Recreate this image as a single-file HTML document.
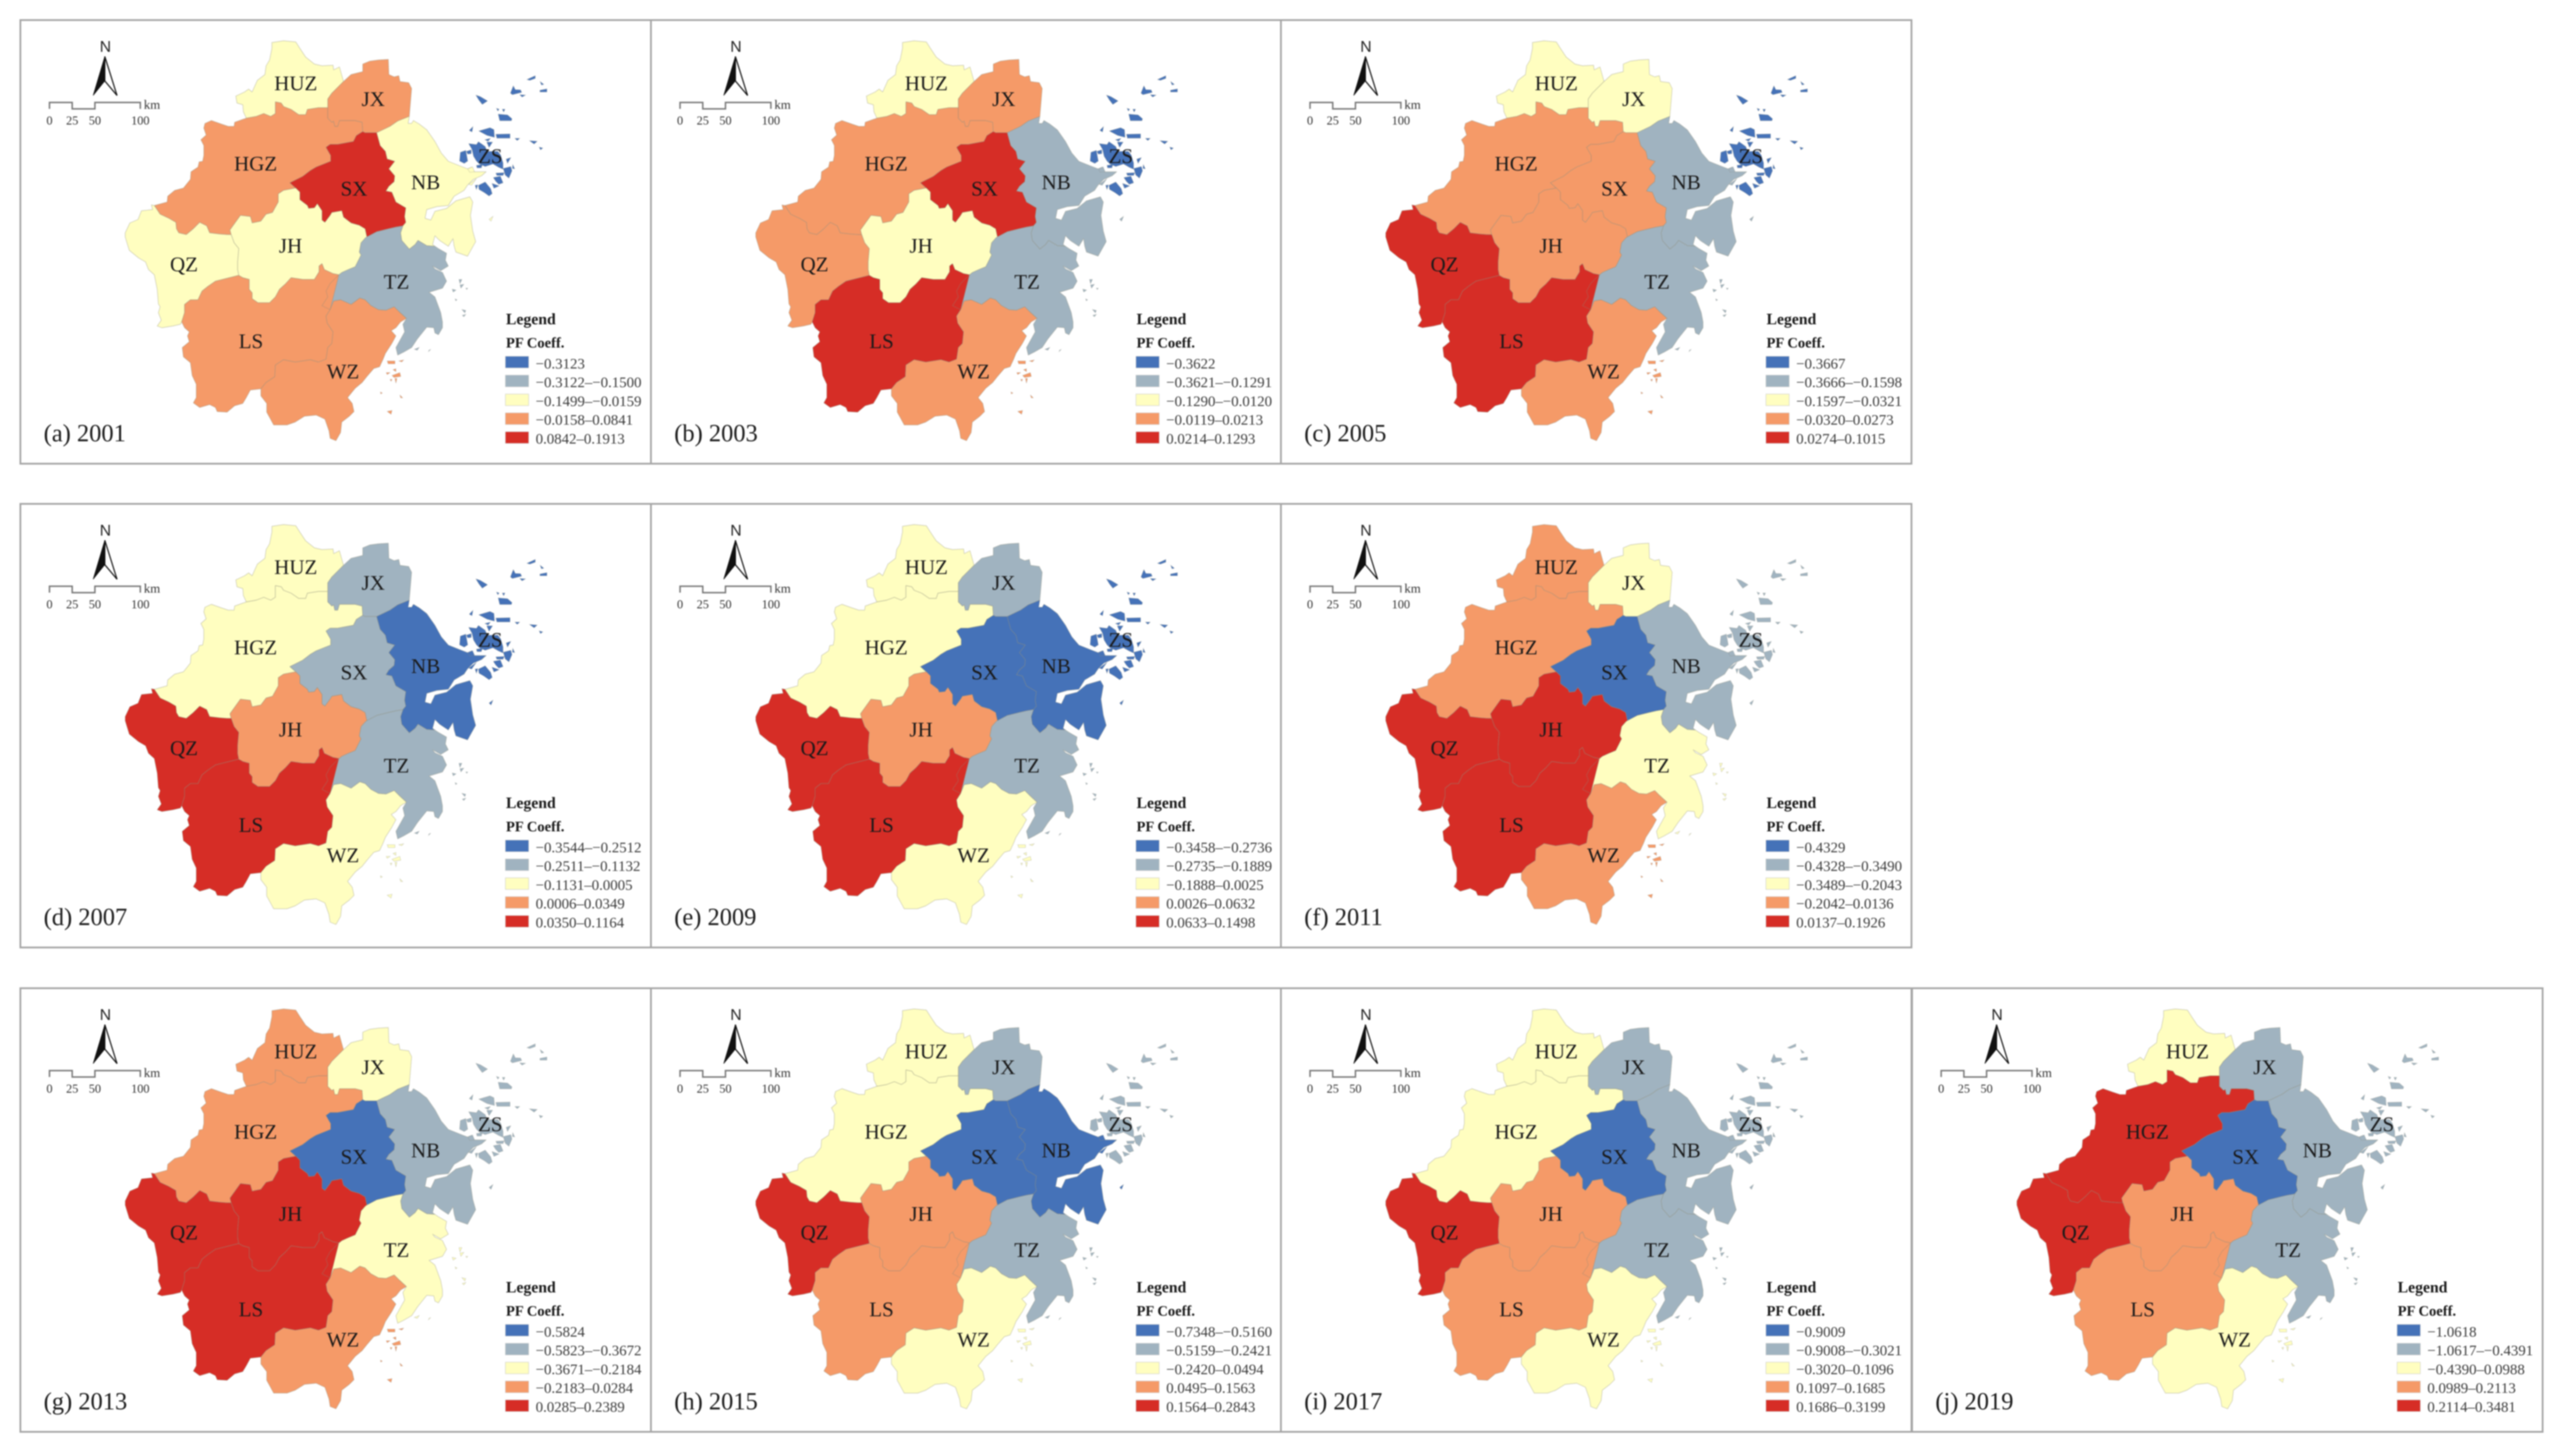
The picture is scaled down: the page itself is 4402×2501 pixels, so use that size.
<!DOCTYPE html>
<html lang="en">
<head>
<meta charset="utf-8">
<title>PF Coefficient maps 2001-2019</title>
<style>
html,body{margin:0;padding:0;background:#fff;width:4402px;height:2501px;overflow:hidden}
svg{display:block;filter:blur(1px)}
text{font-family:"Liberation Serif",serif}
</style>
</head>
<body>
<svg id="figure" xmlns="http://www.w3.org/2000/svg" width="4402" height="2501" viewBox="0 0 4402 2501"></svg>
<script>
// ---------- data ----------
const regionNames = ["HUZ","JX","HGZ","SX","NB","ZS","QZ","JH","TZ","LS","WZ"];
const years = [2001,2003,2005,2007,2009,2011,2013,2015,2017,2019];
const panelLetters = ["a","b","c","d","e","f","g","h","i","j"];
const classColors = ["#4572B8","#A0B3C0","#FFFEC0","#F59A68","#D62D26"];
// class index of each region, same order as regionNames
const classes2001 = [2,3,3,4,2,0,2,2,1,3,3];
const classes2003 = [2,3,3,4,1,0,3,2,1,4,3];
const classes2005 = [2,2,3,3,1,0,4,3,1,4,3];
const classes2007 = [2,1,2,1,0,0,4,3,1,4,2];
const classes2009 = [2,1,2,0,0,0,4,3,1,4,2];
const classes2011 = [3,2,3,0,1,1,4,4,2,4,3];
const classes2013 = [3,2,3,0,1,1,4,4,2,4,3];
const classes2015 = [2,1,2,0,0,1,4,3,1,3,2];
const classes2017 = [2,1,2,0,1,1,4,3,1,3,2];
const classes2019 = [2,1,4,0,1,1,4,3,1,3,2];
const legend2001 = ["\u22120.3123","\u22120.3122\u2013\u22120.1500","\u22120.1499\u2013\u22120.0159","\u22120.0158\u20130.0841","0.0842\u20130.1913"];
const legend2003 = ["\u22120.3622","\u22120.3621\u2013\u22120.1291","\u22120.1290\u2013\u22120.0120","\u22120.0119\u20130.0213","0.0214\u20130.1293"];
const legend2005 = ["\u22120.3667","\u22120.3666\u2013\u22120.1598","\u22120.1597\u2013\u22120.0321","\u22120.0320\u20130.0273","0.0274\u20130.1015"];
const legend2007 = ["\u22120.3544\u2013\u22120.2512","\u22120.2511\u2013\u22120.1132","\u22120.1131\u20130.0005","0.0006\u20130.0349","0.0350\u20130.1164"];
const legend2009 = ["\u22120.3458\u2013\u22120.2736","\u22120.2735\u2013\u22120.1889","\u22120.1888\u20130.0025","0.0026\u20130.0632","0.0633\u20130.1498"];
const legend2011 = ["\u22120.4329","\u22120.4328\u2013\u22120.3490","\u22120.3489\u2013\u22120.2043","\u22120.2042\u20130.0136","0.0137\u20130.1926"];
const legend2013 = ["\u22120.5824","\u22120.5823\u2013\u22120.3672","\u22120.3671\u2013\u22120.2184","\u22120.2183\u20130.0284","0.0285\u20130.2389"];
const legend2015 = ["\u22120.7348\u2013\u22120.5160","\u22120.5159\u2013\u22120.2421","\u22120.2420\u20130.0494","0.0495\u20130.1563","0.1564\u20130.2843"];
const legend2017 = ["\u22120.9009","\u22120.9008\u2013\u22120.3021","\u22120.3020\u20130.1096","0.1097\u20130.1685","0.1686\u20130.3199"];
const legend2019 = ["\u22121.0618","\u22121.0617\u2013\u22120.4391","\u22120.4390\u20130.0988","0.0989\u20130.2113","0.2114\u20130.3481"];
const panelClasses = [classes2001,classes2003,classes2005,classes2007,classes2009,classes2011,classes2013,classes2015,classes2017,classes2019];
const panelLegends = [legend2001,legend2003,legend2005,legend2007,legend2009,legend2011,legend2013,legend2015,legend2017,legend2019];
const scaleTicks = ["0","25","50","100"];

// ---------- geometry ----------
const huz_out=[[423,203],[418,192],[417,180],[407,177],[405,165],[420,158],[427,153],[433,158],[442,138],[455,128],[457,113],[463,103],[467,83],[467,73],[487,70],[508,72],[515,83],[525,98],[540,110],[553,113],[572,112],[573,120],[583,115],[590,140]];
const huz_jx=[[590,140],[570,160],[563,170],[563,185]];
const huz_hgz=[[563,185],[547,185],[528,188],[525,197],[513,197],[500,188],[487,183],[483,177],[473,175],[473,195],[465,200],[453,195],[440,200],[423,203]];
const hgz_out=[[423,203],[417,205],[403,210],[402,217],[392,217],[380,213],[363,207],[352,212],[350,220],[354,232],[345,240],[350,250],[350,267],[348,277],[342,278],[340,287],[328,295],[327,308],[315,323],[300,327],[288,337],[287,347],[265,353]];
const hgz_qz=[[265,353],[275,368],[290,375],[302,382],[303,393],[307,400],[320,403],[332,393],[343,382],[355,388],[360,400],[377,402],[390,403],[397,403]];
const hgz_jh=[[397,403],[395,395],[413,370],[430,372],[433,383],[448,380],[457,368],[468,365],[478,347],[478,333],[487,327],[508,323]];
const hgz_sx=[[508,323],[498,314],[520,303],[533,293],[543,287],[568,277],[568,267],[560,253],[567,248],[580,248],[607,243],[612,233],[623,226]];
const hgz_jx=[[623,226],[622,210],[610,207],[583,207],[580,217],[575,217],[573,208],[570,210],[563,203],[563,185]];
const jx_out=[[590,140],[603,128],[623,123],[623,110],[635,105],[650,103],[667,102],[668,128],[677,132],[685,130],[687,140],[702,142],[707,152],[703,200]];
const jx_nb=[[703,200],[683,208],[670,217],[647,228]];
const jx_sx=[[647,228],[627,228],[623,226]];
const sx_nb=[[647,228],[653,250],[662,260],[665,273],[678,277],[668,290],[678,302],[677,312],[668,320],[663,328],[673,330],[680,347],[697,357],[695,372],[697,382],[692,388]];
const sx_tz=[[692,388],[680,390],[667,393],[647,398],[630,407]];
const sx_jh=[[630,407],[627,393],[617,387],[603,383],[590,373],[587,362],[570,365],[567,370],[558,382],[553,378],[553,362],[545,350],[540,357],[530,358],[528,353],[515,343],[515,330],[508,323]];
const nb_out=[[703,200],[701,212],[707,212],[710,207],[720,213],[733,223],[747,243],[758,263],[770,277],[790,285],[803,290],[810,287],[815,295],[835,295],[827,302],[813,308],[803,318],[797,327],[780,337],[770,353],[750,355],[733,360],[730,375],[740,378],[747,363],[767,358],[783,345],[807,338],[812,347],[808,370],[812,397],[817,415],[803,440],[783,433],[780,423],[778,410],[770,423],[755,413],[747,405],[743,420],[747,423]];
const nb_tz=[[747,423],[733,422],[718,413],[713,420],[703,428],[690,413],[688,400],[692,388]];
const tz_out=[[747,423],[753,427],[767,435],[765,447],[770,457],[757,465],[743,457],[747,462],[760,468],[767,483],[760,495],[737,502],[747,510],[757,537],[760,553],[760,563],[753,575],[747,572],[745,563],[733,562],[717,582],[707,597],[693,605],[683,610],[680,597],[695,570],[692,557],[698,547]];
const tz_wz=[[698,547],[685,535],[677,527],[663,533],[650,532],[637,525],[627,515],[618,512],[603,523],[585,515],[573,517],[567,532]];
const tz_ls=[[567,532],[553,525],[563,510],[560,500],[567,487],[582,472]];
const tz_jh=[[582,472],[587,468],[598,463],[610,458],[620,438],[617,433],[620,417],[628,408],[630,407]];
const qz_jh=[[397,403],[402,417],[410,427],[408,450],[408,463],[410,473]];
const jh_ls=[[410,473],[417,477],[428,480],[428,497],[433,503],[433,513],[443,520],[463,520],[473,510],[480,497],[490,488],[500,477],[520,480],[540,480],[548,467],[548,457],[553,453],[557,463],[572,470],[582,472]];
const qz_out=[[265,353],[260,352],[262,360],[243,362],[237,377],[223,383],[215,400],[215,407],[222,430],[238,443],[250,450],[255,463],[265,472],[270,497],[272,522],[275,527],[272,537],[277,550],[270,560],[278,563],[297,560],[310,557],[312,553]];
const qz_ls=[[312,553],[317,537],[317,523],[327,515],[340,515],[347,500],[357,492],[370,483],[390,478],[410,473]];
const ls_out=[[312,553],[317,563],[325,570],[322,577],[325,587],[313,597],[315,613],[327,623],[330,645],[337,660],[337,683],[332,692],[343,700],[360,695],[370,700],[373,707],[390,708],[403,697],[417,693],[423,683],[430,670],[448,668]];
const ls_wz=[[448,668],[457,657],[472,647],[473,627],[487,618],[507,622],[533,618],[547,622],[560,617],[563,597],[570,590],[572,570],[562,555],[560,543],[567,532]];
const wz_out=[[698,547],[688,553],[680,563],[672,568],[680,577],[673,590],[662,607],[658,617],[652,630],[642,633],[630,647],[622,657],[610,667],[597,683],[605,693],[608,707],[600,715],[587,725],[585,743],[577,757],[567,753],[565,740],[558,720],[543,713],[523,715],[507,725],[493,730],[480,730],[470,730],[463,717],[458,708],[458,693],[448,680],[448,668]];
const rev = a => a.slice().reverse();
const regionOutlines = {
  HUZ:[huz_out,huz_jx,huz_hgz],
  HGZ:[hgz_out,hgz_qz,hgz_jh,hgz_sx,hgz_jx,huz_hgz],
  JX:[rev(huz_jx),jx_out,jx_nb,jx_sx,hgz_jx],
  SX:[rev(jx_sx),sx_nb,sx_tz,sx_jh,hgz_sx],
  NB:[rev(jx_nb),nb_out,nb_tz,rev(sx_nb)],
  TZ:[rev(sx_tz),rev(nb_tz),tz_out,tz_wz,tz_ls,tz_jh],
  JH:[rev(hgz_jh),qz_jh,jh_ls,tz_jh,sx_jh],
  QZ:[rev(hgz_qz),qz_out,qz_ls,rev(qz_jh)],
  LS:[rev(qz_ls),ls_out,ls_wz,rev(tz_ls),rev(jh_ls)],
  WZ:[rev(tz_wz),wz_out,ls_wz]
};
// island outlines traced in 3x crop space, mapped to page space by the helpers below
const zsIslands=[
[705,560,745,565,755,550,790,575,800,600,855,600,870,620,882,660,882,692,860,682,830,665,790,678,760,665,745,650,730,625,722,590],
[662,605,690,595,700,650,682,662,658,650],[693,600,718,592,718,612,700,614],
[757,495,815,478,835,488,838,528,800,518],[845,512,918,510,918,532,850,532],
[798,552,828,552,810,580],[883,688,922,678,928,700,912,738,893,722],[898,640,922,632,905,662],
[755,775,790,758,818,792,826,818,810,830,785,812,758,796],[832,735,868,728,882,762,860,770,845,755],
[825,765,862,778,835,790],[845,712,888,710,882,724,850,724],[738,775,752,773,745,797],
[857,408,905,412,928,432,925,442,865,442],[742,310,765,318,802,340,775,358,757,335],
[920,300,935,262,945,282,972,283,978,296,930,308],[968,308,998,310,980,320],
[1072,285,1108,278,1108,294,1072,294],[1005,230,1048,210,1048,224,1020,234],
[1073,240,1092,255,1080,258],[708,492,727,472,722,500],[1018,545,1058,548,1042,562],
[1068,578,1087,583,1075,592],[943,533,968,533,955,544],[848,378,862,383,855,392],
[878,383,892,383,885,397],[788,540,817,533,805,548],[932,668,942,690,930,688],
[745,672,775,668,770,685,748,685]];
const nbIslands=[[810,950,830,935,820,960],[700,690,725,680,735,705,710,708],[705,770,745,740,720,775]];
const wzIslands=[
[285,660,325,660,325,675,290,675],[345,660,370,655,360,665],[280,720,300,720,285,730],
[310,735,350,720,355,740,320,745],[315,705,330,700,330,715],[325,750,335,750,330,775],
[285,920,310,915,305,935],[350,835,365,850,355,850],[250,820,260,825,252,830],[300,755,310,755,305,765]];
const tzIslands=[
[620,290,640,295,625,305],[655,240,670,240,660,262],[660,268,680,265,665,285],
[670,395,690,400,685,412],[672,425,690,420,680,432],[635,340,645,345,638,350],
[500,605,510,600,498,612],[425,600,450,590,440,605],[690,285,700,285,695,292]];
const fromCropNorth = a => a.map((v,i)=> i%2===0 ? 570+v/3 : 60+v/3);
const fromCropSouth = a => a.map((v,i)=> i%2===0 ? 570+v/3 : 400+v/3);
const islandSets = [
  {region:"ZS",shapes:zsIslands.map(fromCropNorth)},
  {region:"NB",shapes:nbIslands.map(fromCropNorth)},
  {region:"WZ",shapes:wzIslands.map(fromCropSouth)},
  {region:"TZ",shapes:tzIslands.map(fromCropSouth)}
];
const regionLabels = {HUZ:[508,155],JX:[641,182],HGZ:[439,293],SX:[608,336],NB:[731,325],ZS:[842,280],QZ:[316,466],JH:[499,434],TZ:[681,496],LS:[431,598],WZ:[589,650]};
const colOffsets = [0,1083,2165,3249];
const rowOffsets = [0,831,1663];

// ---------- drawing ----------
const NS = "http://www.w3.org/2000/svg";
const root = document.getElementById("figure");
function mk(tag,parent){const e=document.createElementNS(NS,tag);parent.appendChild(e);return e;}
function put(e,o){for(const k in o)e.setAttribute(k,o[k]);return e;}
function txt(parent,x,y,size,str,extra){
  const t=mk("text",parent);
  put(t,{x:x,y:y,"font-size":size,fill:"#222"});
  if(extra)put(t,extra);
  t.textContent=str;
  return t;
}
const colorScale = c => classColors[c];
const pathFrom = chains => {
  const pts=[];chains.forEach(c=>c.forEach(p=>pts.push(p)));
  return "M"+pts.map(p=>p[0]+" "+p[1]).join("L")+"Z";
};
const pathFromFlat = a => {
  let d="M"+a[0]+" "+a[1];
  for(let i=2;i<a.length;i+=2)d+="L"+a[i]+" "+a[i+1];
  return d+"Z";
};

years.forEach((year,pi)=>{
  const col = pi<9 ? pi%3 : 3;
  const row = pi<9 ? Math.floor(pi/3) : 2;
  const dx = colOffsets[col], dy = rowOffsets[row];
  const g = mk("g",root);
  
  
  put(g,{transform:"translate("+dx+","+dy+")"});

  const frame = mk("rect",g);
  
  
  put(frame,{x:35,y:34.5,width:1083,height:762,fill:"#fff",stroke:"#a4a4a4","stroke-width":3});

  const cls = panelClasses[pi];
  Object.keys(regionOutlines).forEach(name=>{
    const p = mk("path",g);
    
    
    put(p,{d:pathFrom(regionOutlines[name]),fill:colorScale(cls[regionNames.indexOf(name)]),stroke:"#8c8c78","stroke-opacity":0.38,"stroke-width":1.2,"stroke-linejoin":"round"});
  });
  islandSets.forEach(set=>{
    set.shapes.forEach(s=>{
      const p = mk("path",g);
      
      
      put(p,{d:pathFromFlat(s),fill:colorScale(cls[regionNames.indexOf(set.region)]),stroke:"#8c8c80","stroke-opacity":0.4,"stroke-width":0.8});
    });
  });
  regionNames.forEach(name=>{
    const pos = regionLabels[name];
    const t = txt(g,pos[0],pos[1],36,name,{"text-anchor":"middle",fill:"#1a1a1a"});
    
    
  });

  // north arrow
  const n = mk("text",g);
  
  
  put(n,{x:181,y:89,"font-size":27,"text-anchor":"middle",fill:"#222",style:"font-family:'Liberation Sans',sans-serif"});
  n.textContent="N";
  const arrowR = mk("polygon",g);
  
  
  put(arrowR,{points:"180,97 201,164 180,139",fill:"#fff",stroke:"#111","stroke-width":2});
  const arrowL = mk("polygon",g);
  
  
  put(arrowL,{points:"180,97 160,164 180,139",fill:"#111",stroke:"#111","stroke-width":1});

  // scale bar
  const bar = mk("polyline",g);
  
  
  put(bar,{points:"85,187 85,176 124,176 124,187 163,187 163,176 241,176 241,187",fill:"none",stroke:"#777","stroke-width":2.5});
  const tickX = v => 85 + Number(v)*1.56;
  scaleTicks.forEach(v=>{
    const t = txt(g,tickX(v),214,21,v,{"text-anchor":"middle",fill:"#333"});
    
    
  });
  const km = txt(g,247,187,22,"km",{fill:"#333"});
  
  

  // legend
  const lt = txt(g,869,557,27,"Legend",{"font-weight":"bold",fill:"#1a1a1a"});
  
  
  const lf = txt(g,869,597,25,"PF Coeff.",{"font-weight":"bold",fill:"#1a1a1a"});
  
  
  panelLegends[pi].forEach((label,i)=>{
    const sw = mk("rect",g);
    
    
    put(sw,{x:868,y:612+i*32.4,width:40,height:20,fill:classColors[i],stroke:"#ccc","stroke-width":0.8});
    const t = txt(g,920,633+i*32.2,25.5,label,{fill:"#3c3c3c"});
    
    
  });

  // panel caption
  const cap = txt(g,75,758,42,"("+panelLetters[pi]+") "+year,{fill:"#1a1a1a"});
  
  
});
</script>
</body>
</html>
